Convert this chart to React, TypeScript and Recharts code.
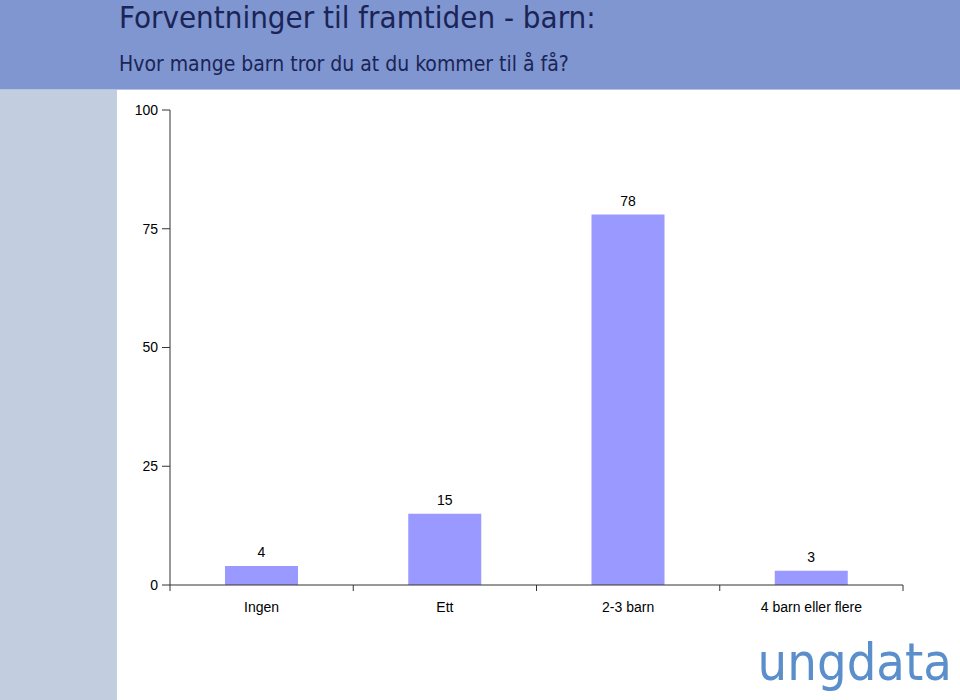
import { BarChart, Bar, XAxis, YAxis, LabelList } from 'recharts'

const categories = ['Ingen', 'Ett', '2-3 barn', '4 barn eller flere']
const values = [4, 15, 78, 3]
const yTicks = [0, 25, 50, 75, 100]

const title = 'Forventninger til framtiden - barn:'
const subtitle = 'Hvor mange barn tror du at du kommer til å få?'

const data = categories.map((name, i) => ({ name, value: values[i] }))

const W = 960
const H = 700
const margin = { top: 110, right: 57, left: 110, bottom: 85 }
const yAxisWidth = 60
const plotWidth = W - margin.left - margin.right - yAxisWidth
const halfBand = plotWidth / categories.length / 2
const headFont = "'DejaVu Sans Condensed', 'DejaVu Sans', sans-serif"
const axisFont = "'Liberation Sans', Arial, sans-serif"

function CategoryTick(props: any) {
  const { x, y, payload, index } = props
  const left = x - halfBand
  const right = x + halfBand
  return (
    <g>
      <line x1={left} y1={y - 8} x2={left} y2={y - 2} stroke="#333" strokeWidth={1} />
      {index === categories.length - 1 && (
        <line x1={right} y1={y - 8} x2={right} y2={y - 2} stroke="#333" strokeWidth={1} />
      )}
      <text x={x} y={y + 19} textAnchor="middle" fontSize={14} fontFamily={axisFont} fill="#000">
        {payload.value}
      </text>
    </g>
  )
}

export default function App() {
  return (
    <div style={{ position: 'absolute', left: 0, top: 0, width: W, height: H, background: '#fff', overflow: 'hidden' }}>
      <div style={{ position: 'absolute', left: 0, top: 0, width: W, height: 89, background: '#7f96d0' }} />
      <div style={{ position: 'absolute', left: 0, top: 89, width: W, height: 1, background: '#b4c2e4' }} />
      <div style={{ position: 'absolute', left: 0, top: 90, width: 117, height: H - 90, background: '#c2cde0' }} />
      <svg style={{ position: 'absolute', left: 0, top: 0 }} width={W} height={90}>
        <text x={119} y={28} fontSize={31} fontFamily={headFont} fill="#1b2456">
          {title}
        </text>
        <text x={119} y={71} fontSize={21} fontFamily={headFont} fill="#1b2456">
          {subtitle}
        </text>
      </svg>
      <div style={{ position: 'absolute', left: 0, top: 0 }}>
        <BarChart width={W} height={H} data={data} margin={margin}>
          <YAxis
            width={yAxisWidth}
            domain={[0, 100]}
            ticks={yTicks}
            interval={0}
            axisLine={{ stroke: '#333' }}
            tickLine={{ stroke: '#333' }}
            tickSize={8}
            tickMargin={4}
            tick={{ fontSize: 14, fill: '#000', fontFamily: axisFont }}
          />
          <XAxis
            dataKey="name"
            height={30}
            interval={0}
            axisLine={{ stroke: '#333' }}
            tickLine={false}
            tick={<CategoryTick />}
          />
          <Bar dataKey="value" fill="#9999ff" barSize={73} isAnimationActive={false}>
            <LabelList dataKey="value" position="top" offset={9} fontSize={14} fill="#000" fontFamily={axisFont} />
          </Bar>
        </BarChart>
      </div>
      <svg style={{ position: 'absolute', left: 0, top: 0 }} width={W} height={H}>
        <text x={952} y={680} textAnchor="end" fontSize={52} fontFamily={headFont} fill="#5b8fcb">
          ungdata
        </text>
      </svg>
    </div>
  )
}
